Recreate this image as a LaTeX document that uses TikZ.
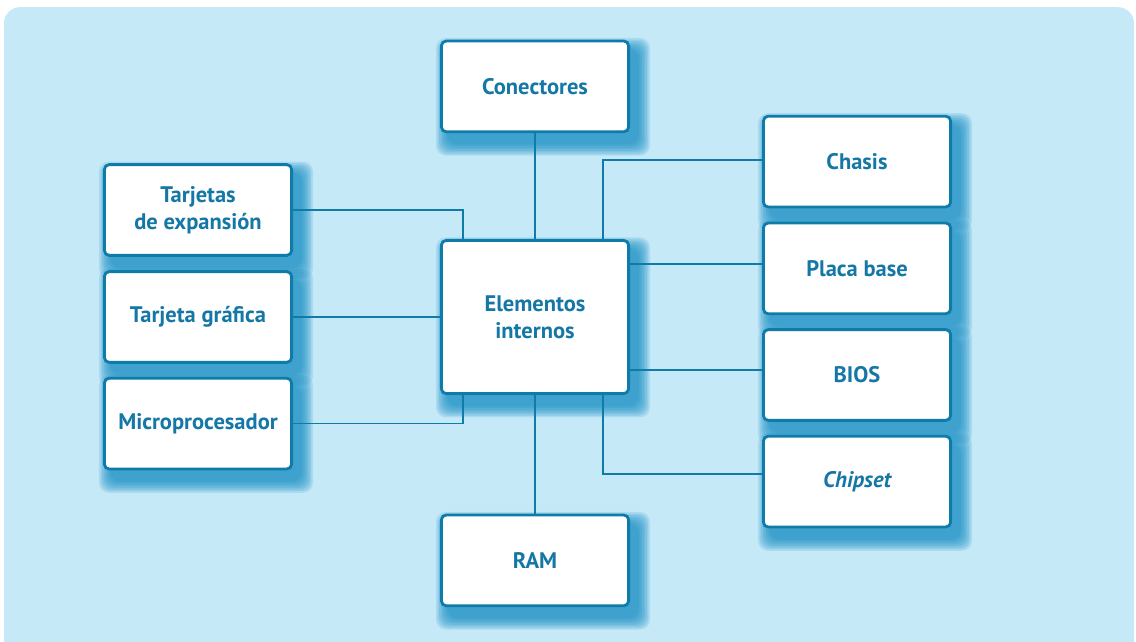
\documentclass[tikz,border=0pt]{standalone}
\usepackage{fontspec}
\setmainfont{PT Sans}
\definecolor{bgblue}{RGB}{198,233,248}
\definecolor{lineblue}{RGB}{14,123,168}
\definecolor{textblue}{RGB}{21,119,166}
\definecolor{glowblue}{RGB}{22,142,196}
\pgfdeclarelayer{panel}
\pgfdeclarelayer{glow}
\pgfsetlayers{panel,glow,main}
\tikzset{
  box/.style={draw=lineblue,line width=2pt,fill=white,rounded corners=0.12cm,
    minimum width=4.68cm,minimum height=2.27cm,align=center,
    font=\fontsize{16}{19}\selectfont\bfseries,text=textblue},
  link/.style={draw=lineblue,line width=1.1pt}
}
% soft blue glow behind a box
\newcommand{\boxglow}[1]{%
  \foreach \s in {0.02,0.06,...,0.3}
    \fill[glowblue,opacity=0.16,rounded corners=0.25cm]
      ([shift={(0.2-\s,-0.26+\s)}]#1.north west) rectangle ([shift={(0.2+\s,-0.26-\s)}]#1.south east);}

\begin{document}
\begin{tikzpicture}

\useasboundingbox (0,0) rectangle (28.4,-16.05);
\clip (0,0) rectangle (28.4,-16.05);

%%% background panel
\begin{pgfonlayer}{panel}
\fill[bgblue,rounded corners=0.4cm] (0.1,-0.18) rectangle (28.35,-16.6);
\end{pgfonlayer}

%%% centre and top / bottom
\node[box,minimum height=3.83cm] (int) at (13.375,-7.925) {Elementos\\internos};
\node[box] (con) at (13.375,-2.16) {Conectores};
\node[box] (ram) at (13.375,-14.01) {RAM};

%%% left column
\node[box] (exp) at (4.95,-5.25) {Tarjetas\\de expansión};
\node[box] (graf) at (4.95,-7.925) {Tarjeta gráfica};
\node[box] (micro) at (4.95,-10.59) {Microprocesador};

%%% right column
\node[box] (chasis) at (21.425,-4.04) {Chasis};
\node[box] (placa) at (21.425,-6.71) {Placa base};
\node[box] (bios) at (21.425,-9.375) {BIOS};
\node[box] (chip) at (21.425,-12.04) {\itshape Chipset};

%%% shadows
\begin{pgfonlayer}{glow}
\foreach \n in {int,con,ram,exp,graf,micro,chasis,placa,bios,chip}
  {\boxglow{\n}}
\end{pgfonlayer}

%%% links
\draw[link] (con) -- (int);
\draw[link] (int) -- (ram);
\draw[link] (exp.east) -| ([xshift=0.58cm]int.north west);
\draw[link] (graf) -- (int);
\draw[link] (micro.east) -| ([xshift=0.58cm]int.south west);
\draw[link] ([yshift=0.04cm]chasis.west) -| ([xshift=-0.68cm]int.north east);
\draw[link] ([yshift=0.11cm]placa.west) -- ([yshift=0.11cm]placa.west -| int.east);
\draw[link] ([yshift=0.12cm]bios.west) -- ([yshift=0.12cm]bios.west -| int.east);
\draw[link] ([yshift=0.19cm]chip.west) -| ([xshift=-0.68cm]int.south east);

\end{tikzpicture}
\end{document}
